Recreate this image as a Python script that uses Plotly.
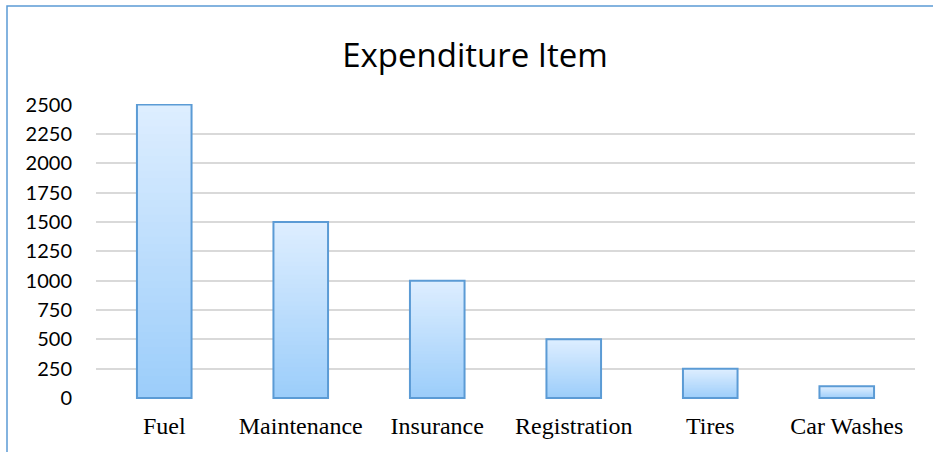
import plotly.graph_objects as go

categories = ["Fuel", "Maintenance", "Insurance", "Registration", "Tires", "Car Washes"]
values = [2500, 1500, 1000, 500, 250, 100]
y_ticks = [0, 250, 500, 750, 1000, 1250, 1500, 1750, 2000, 2250, 2500]

W, H = 933, 452
ml, mr, mt, mb = 96, 18, 104, 53
yr = [-8, 2505]

top_rgb = (222, 238, 255)
bot_rgb = (155, 205, 250)
N = 40

fig = go.Figure()
for i in range(N):
    t = (i + 0.5) / N
    c = tuple(round(bot_rgb[k] + (top_rgb[k] - bot_rgb[k]) * t) for k in range(3))
    seg = [v / N * (1.6 if i < N - 1 else 1.0) for v in values]
    fig.add_trace(go.Bar(
        x=categories,
        y=seg,
        base=[v * i / N for v in values],
        marker=dict(color="rgb(%d,%d,%d)" % c, line=dict(width=0)),
        width=0.4, hoverinfo="skip", showlegend=False,
    ))
fig.add_trace(go.Bar(
    x=categories, y=values,
    marker=dict(color="rgba(0,0,0,0)", line=dict(color="#5b9bd5", width=2)),
    width=0.4, showlegend=False,
))

pw = W - ml - mr
ph = H - mt - mb
fig.add_shape(type="rect", xref="paper", yref="paper",
              x0=(7 - ml) / pw, x1=(W + 20 - ml) / pw,
              y0=-(mb + 20) / ph, y1=(H - mb - 6) / ph,
              line=dict(color="#5b9bd5", width=1.5), fillcolor="rgba(0,0,0,0)", layer="below")

fig.update_layout(
    width=W, height=H,
    margin=dict(l=ml, r=mr, t=mt, b=mb),
    paper_bgcolor="white", plot_bgcolor="white",
    barmode="overlay",
    title=dict(text="Expenditure Item", x=475 / W, xref="container", xanchor="center",
               y=1 - 55 / H, yanchor="middle",
               font=dict(family="Open Sans", size=33, color="black")),
    xaxis=dict(showgrid=False, zeroline=False, showline=False,
               tickfont=dict(family="Liberation Serif", size=24, color="black"),
               ticklabelstandoff=10),
    yaxis=dict(range=yr, tickvals=y_ticks, showgrid=True, gridcolor="#d9d9d9", gridwidth=1.5,
               zeroline=False, showline=False,
               tickfont=dict(family="Lato", size=20, color="black"),
               ticklabelstandoff=23),
)

fig.write_html("out.html", config={"displayModeBar": False},
               post_script="document.body.style.margin='0px';document.body.style.overflow='hidden';")
